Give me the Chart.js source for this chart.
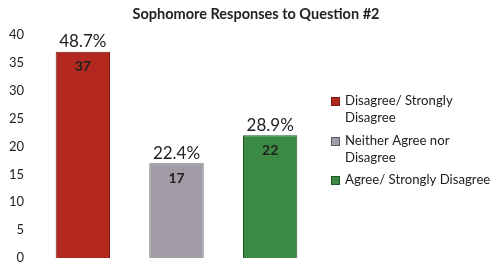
<!DOCTYPE html>
<html lang="en">
<head>
    <meta charset="UTF-8">
    <title>Sophomore Responses to Question #2</title>
    <script src="https://cdn.jsdelivr.net/npm/chart.js"></script>
    <style>
        body { margin: 0; background: #fff; }
        #wrap { width: 492px; height: 266px; }
    </style>
</head>
<body>
    <div id="wrap"><canvas id="myChart" width="492" height="266"></canvas></div>

    <script>
        const title = 'Sophomore Responses to Question #2';
        const categories = ['Disagree/ Strongly Disagree', 'Neither Agree nor Disagree', 'Agree/ Strongly Disagree'];
        const legendLines = [['Disagree/ Strongly', 'Disagree'], ['Neither Agree nor', 'Disagree'], ['Agree/ Strongly Disagree']];
        const counts = [37, 17, 22];
        const percents = ['48.7%', '22.4%', '28.9%'];
        const yTicks = [0, 5, 10, 15, 20, 25, 30, 35, 40];

        const fillColors = ['#b3281f', '#a19ca6', '#3a8a43'];
        const edgeColors = ['#7a1a14', '#5e5a62', '#23572a'];
        const font = 'Lato, "Open Sans", sans-serif';

        // title, labels above / inside bars, and the wrapped legend on the right
        const extras = {
            id: 'extras',
            afterDatasetsDraw(chart) {
                const ctx = chart.ctx;
                const meta = chart.getDatasetMeta(0);
                ctx.save();
                ctx.fillStyle = '#222';
                ctx.textAlign = 'center';
                ctx.textBaseline = 'middle';
                ctx.font = 'bold 14.5px ' + font;
                ctx.fillText(title, 256, 14);

                meta.data.forEach((bar, i) => {
                    ctx.fillStyle = '#222';
                    ctx.font = '17px ' + font;
                    ctx.textBaseline = 'middle';
                    ctx.fillText(percents[i], bar.x, bar.y - 10);
                    ctx.font = 'bold 14px ' + font;
                    ctx.fillText(String(counts[i]), bar.x, bar.y + 15);
                });

                ctx.textAlign = 'left';
                ctx.textBaseline = 'middle';
                ctx.font = '13.2px ' + font;
                const x0 = 331;
                const tops = [101, 141, 180];
                legendLines.forEach((lines, i) => {
                    ctx.fillStyle = fillColors[i];
                    ctx.strokeStyle = edgeColors[i];
                    ctx.lineWidth = 1;
                    ctx.fillRect(x0, tops[i] - 4, 9, 9);
                    ctx.strokeRect(x0 + 0.5, tops[i] - 3.5, 8, 8);
                    ctx.fillStyle = '#222';
                    lines.forEach((t, k) => ctx.fillText(t, x0 + 14, tops[i] + k * 17));
                });
                ctx.restore();
            }
        };

        new Chart(document.getElementById('myChart'), {
            type: 'bar',
            data: {
                labels: categories,
                datasets: [{
                    data: counts,
                    backgroundColor: fillColors,
                    borderColor: edgeColors,
                    borderWidth: 1,
                    categoryPercentage: 1,
                    barPercentage: 0.58
                }]
            },
            options: {
                responsive: false,
                animation: false,
                // plot area: x 36..317, y 35..258
                layout: { padding: { left: 0, right: 175, top: 35, bottom: 8 } },
                plugins: {
                    legend: { display: false },
                    tooltip: { enabled: false },
                    title: { display: false }
                },
                scales: {
                    x: {
                        display: false
                    },
                    y: {
                        min: 0,
                        max: 40,
                        afterBuildTicks: axis => { axis.ticks = yTicks.map(v => ({ value: v })); },
                        afterFit: axis => {
                            axis.width = 36;
                            // tick padding would otherwise reserve extra room above/below the plot
                            axis.paddingTop = 0;
                            axis.paddingBottom = 0;
                        },
                        grid: { display: false, drawTicks: false },
                        border: { display: false },
                        ticks: { color: '#222', font: { family: font, size: 13 }, padding: 12 }
                    }
                }
            },
            plugins: [extras]
        });
    </script>
</body>
</html>
